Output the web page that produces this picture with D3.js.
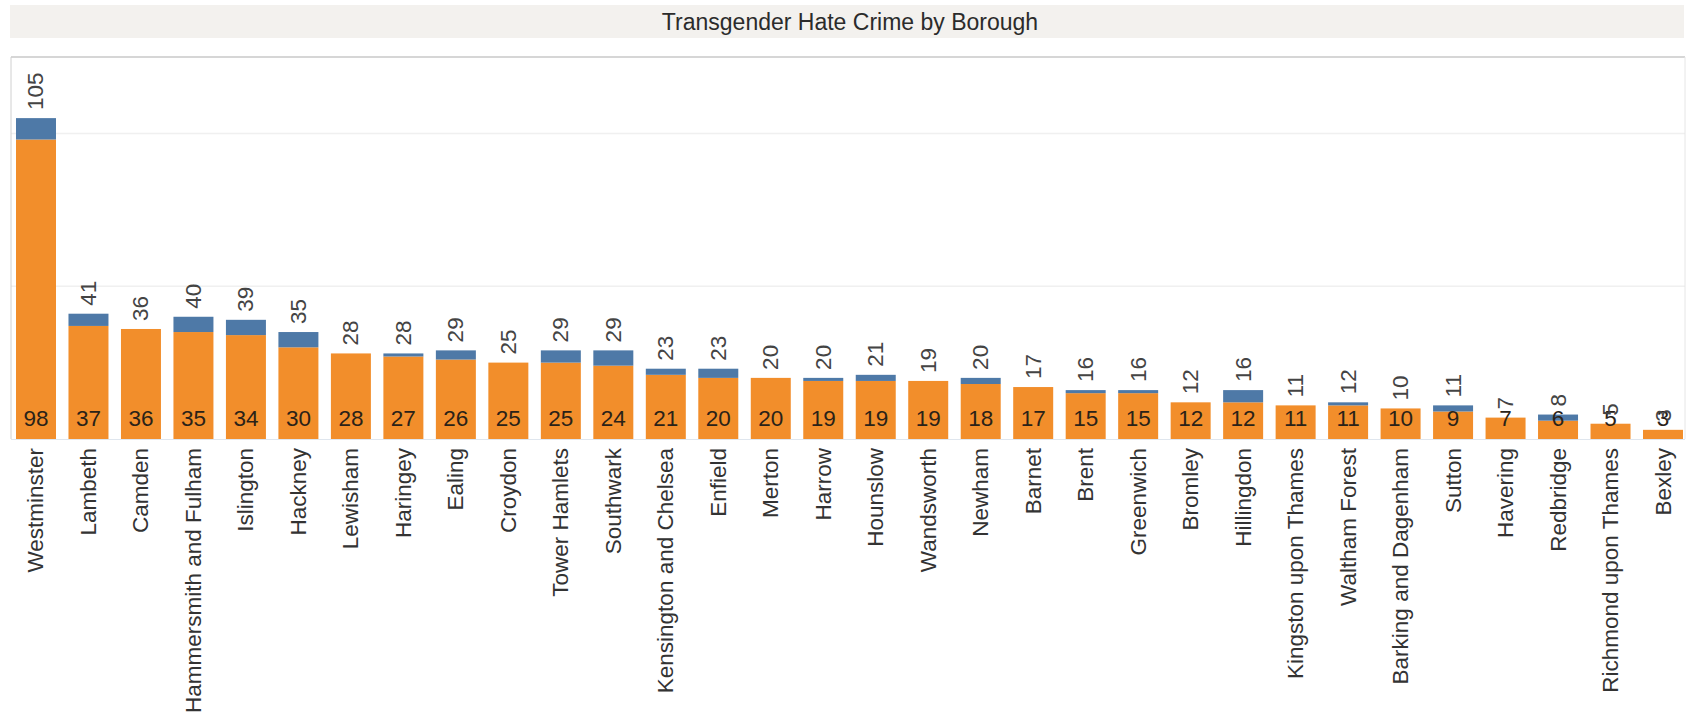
<!DOCTYPE html>
<html>
<head>
<meta charset="utf-8">
<script src="https://cdn.jsdelivr.net/npm/d3@7"></script>
<style>
  html, body { margin: 0; padding: 0; background: #ffffff; }
  svg { display: block; }
  text { font-family: Arial, "Liberation Sans", sans-serif; }
</style>
</head>
<body>
<svg id="chart" width="1688" height="720"></svg>
<script>
const boroughs = ["Westminster","Lambeth","Camden","Hammersmith and Fulham","Islington","Hackney","Lewisham","Haringey","Ealing","Croydon","Tower Hamlets","Southwark","Kensington and Chelsea","Enfield","Merton","Harrow","Hounslow","Wandsworth","Newham","Barnet","Brent","Greenwich","Bromley","Hillingdon","Kingston upon Thames","Waltham Forest","Barking and Dagenham","Sutton","Havering","Redbridge","Richmond upon Thames","Bexley"];
const baseValues = [98,37,36,35,34,30,28,27,26,25,25,24,21,20,20,19,19,19,18,17,15,15,12,12,11,11,10,9,7,6,5,3];
const totalValues = [105,41,36,40,39,35,28,28,29,25,29,29,23,23,20,20,21,19,20,17,16,16,12,16,11,12,10,11,7,8,5,3];
const gridTicks = [50,100];
const titleText = "Transgender Hate Crime by Borough";

const svg = d3.select("#chart");
const plotTop = 57, plotBottom = 439, plotLeft = 11, plotRight = 1685;

// title bar
svg.append("rect").attr("x",10).attr("y",5).attr("width",1674).attr("height",33).attr("fill","#f3f1ee");
svg.append("text").attr("x",850).attr("y",22).attr("text-anchor","middle").attr("dominant-baseline","central")
  .attr("font-size","23px").attr("fill","#2b2b2b").text(titleText);

const x = d3.scaleBand().domain(boroughs).range([9.75, 1689.25]).paddingInner(0.238).paddingOuter(0.119);
const y = d3.scaleLinear().domain([0,125]).range([plotBottom, plotTop]);

// gridlines
svg.append("g").selectAll("line").data(gridTicks).join("line")
  .attr("x1",plotLeft).attr("x2",plotRight)
  .attr("y1",d=>y(d)).attr("y2",d=>y(d))
  .attr("stroke","#f0f0f0").attr("stroke-width",1.5);

// frame
svg.append("line").attr("x1",plotLeft).attr("x2",plotRight).attr("y1",plotTop).attr("y2",plotTop).attr("stroke","#c8c8c8").attr("stroke-width",1.5);
svg.append("line").attr("x1",plotLeft).attr("x2",plotLeft).attr("y1",plotTop).attr("y2",plotBottom).attr("stroke","#d0d0d0").attr("stroke-width",1);
svg.append("line").attr("x1",plotRight).attr("x2",plotRight).attr("y1",plotTop).attr("y2",plotBottom).attr("stroke","#e6e6e6").attr("stroke-width",1);

const data = boroughs.map((b,i)=>({name:b, base:baseValues[i], total:totalValues[i]}));

// orange bars
svg.append("g").selectAll("rect").data(data).join("rect")
  .attr("x",d=>x(d.name)).attr("width",x.bandwidth())
  .attr("y",d=>y(d.base)).attr("height",d=>y(0)-y(d.base))
  .attr("fill","#f28e2b");

// blue bars
svg.append("g").selectAll("rect").data(data.filter(d=>d.total>d.base)).join("rect")
  .attr("x",d=>x(d.name)).attr("width",x.bandwidth())
  .attr("y",d=>y(d.total)).attr("height",d=>y(d.base)-y(d.total))
  .attr("fill","#4e79a7");

// baseline
svg.append("line").attr("x1",plotLeft).attr("x2",plotRight).attr("y1",plotBottom+0.5).attr("y2",plotBottom+0.5).attr("stroke","#dfe6ee").attr("stroke-width",1);

// inner labels
svg.append("g").selectAll("text").data(data).join("text")
  .attr("x",d=>x(d.name)+x.bandwidth()/2).attr("y",426)
  .attr("text-anchor","middle").attr("font-size","22.5px").attr("fill","#2a2218")
  .text(d=>d.base);

// total labels (rotated)
svg.append("g").selectAll("text").data(data).join("text")
  .attr("transform",d=>`translate(${x(d.name)+x.bandwidth()/2},${y(d.total)-8}) rotate(-90)`)
  .attr("text-anchor","start").attr("dominant-baseline","central")
  .attr("font-size","22.5px").attr("fill","#444")
  .text(d=>d.total);

// axis labels
svg.append("g").selectAll("text").data(boroughs).join("text")
  .attr("transform",d=>`translate(${x(d)+x.bandwidth()/2},448) rotate(-90)`)
  .attr("text-anchor","end").attr("dominant-baseline","central")
  .attr("font-size","22.5px").attr("fill","#333")
  .text(d=>d);
</script>
</body>
</html>
